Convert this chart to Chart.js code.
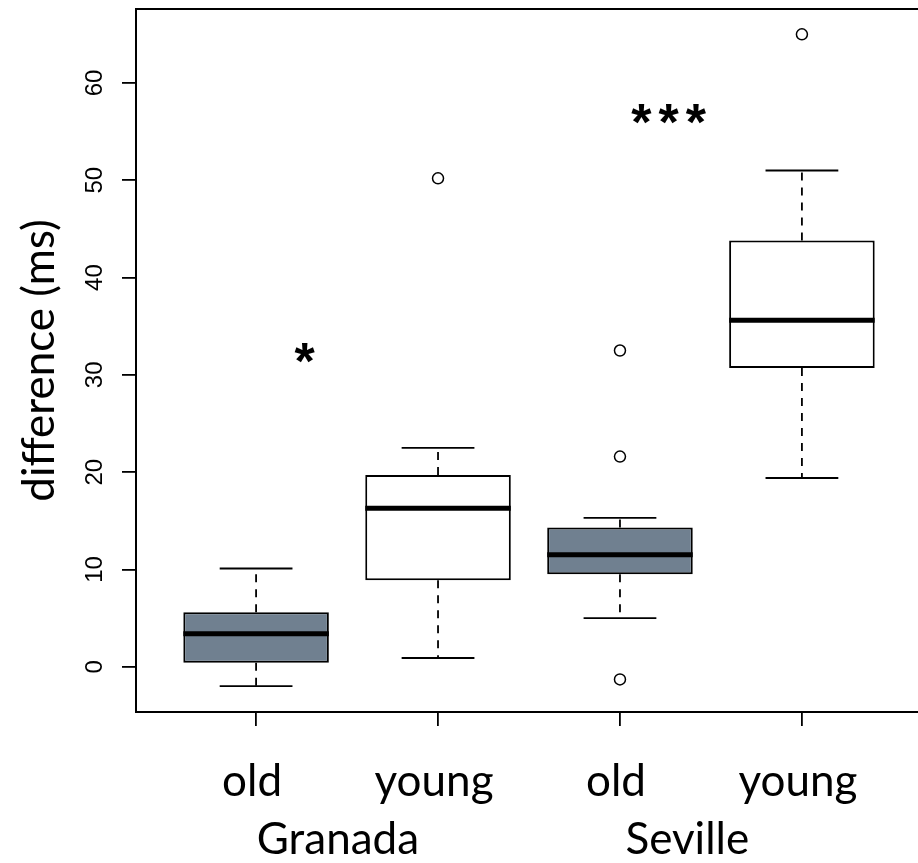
<!DOCTYPE html>
<html>
<head>
<meta charset="utf-8">
<script src="https://cdn.jsdelivr.net/npm/chart.js@4.4.1/dist/chart.umd.min.js"></script>
<style>
  html, body { margin: 0; padding: 0; background: #fff; overflow: hidden; }
  #wrap { position: absolute; left: 0; top: 0; width: 940px; height: 863px; }
</style>
</head>
<body>
<div id="wrap"><canvas id="chart" width="940" height="863"></canvas></div>
<script>
// box statistics, one entry per group (Granada old/young, Seville old/young)
const groups = ["old", "young", "old", "young"];
const cities = ["Granada", "Seville"];
const whiskerLow = [-2.0, 0.9, 5.0, 19.4];
const lowerQuartile = [0.4, 8.9, 9.5, 30.7];
const medians = [3.4, 16.3, 11.5, 35.6];
const upperQuartile = [5.6, 19.7, 14.3, 43.8];
const whiskerHigh = [10.1, 22.5, 15.3, 51.0];
const outliers = [[], [50.2], [32.5, 21.6, -1.3], [65.0]];
const yTicks = [0, 10, 20, 30, 40, 50, 60];
const stars = ["*", "***"];
const starValues = [32.2, 56.8];

// where the city names and the stars sit along the x scale
const cityAt = [1.45, 3.37];
const starAt = [1.25, 3.25];
const fills = ["#708090", "#ffffff", "#708090", "#ffffff"];

const boxes = groups.map((g, i) => ({ x: i + 1, y: [lowerQuartile[i], upperQuartile[i]] }));
const points = [];
outliers.forEach((list, i) => list.forEach(v => points.push({ x: i + 1, y: v })));

function seg(ctx, x1, y1, x2, y2) {
  ctx.beginPath();
  ctx.moveTo(x1, y1);
  ctx.lineTo(x2, y2);
  ctx.stroke();
}

function noPad(s) {
  s.paddingTop = 0;
  s.paddingBottom = 0;
  s.paddingLeft = 0;
  s.paddingRight = 0;
}

const boxParts = {
  id: "boxParts",
  afterDatasetsDraw(chart) {
    const { ctx, chartArea, scales: { x, y } } = chart;
    const bars = chart.getDatasetMeta(0).data;
    ctx.save();
    ctx.strokeStyle = "#000";
    medians.forEach((m, i) => {
      const cx = x.getPixelForValue(i + 1);
      const half = bars[i].width / 2;
      const hi = y.getPixelForValue(whiskerHigh[i]);
      const lo = y.getPixelForValue(whiskerLow[i]);
      ctx.lineWidth = 1.8;
      ctx.setLineDash([8, 7]);
      seg(ctx, cx, y.getPixelForValue(upperQuartile[i]), cx, hi);
      seg(ctx, cx, y.getPixelForValue(lowerQuartile[i]), cx, lo);
      ctx.setLineDash([]);
      seg(ctx, cx - half / 2, hi, cx + half / 2, hi);
      seg(ctx, cx - half / 2, lo, cx + half / 2, lo);
      ctx.lineWidth = 5;
      const my = y.getPixelForValue(m);
      seg(ctx, cx - half, my, cx + half, my);
    });
    // frame round the plot
    ctx.lineWidth = 2;
    ctx.strokeRect(chartArea.left, chartArea.top, chartArea.right - chartArea.left, chartArea.bottom - chartArea.top);

    // significance stars, centred on their ink
    ctx.fillStyle = "#000";
    ctx.font = "bold 52px 'Liberation Sans'";
    ctx.letterSpacing = "7px";
    ctx.textAlign = "left";
    ctx.textBaseline = "alphabetic";
    stars.forEach((s, i) => {
      const m = ctx.measureText(s);
      const w = m.actualBoundingBoxRight + m.actualBoundingBoxLeft - 7;
      const h = m.actualBoundingBoxAscent + m.actualBoundingBoxDescent;
      const px = x.getPixelForValue(starAt[i]);
      const py = y.getPixelForValue(starValues[i]);
      ctx.fillText(s, px - w / 2 + m.actualBoundingBoxLeft, py + h / 2 - m.actualBoundingBoxDescent);
    });
    ctx.restore();
  }
};

new Chart(document.getElementById("chart"), {
  type: "bar",
  data: {
    datasets: [
      {
        data: boxes,
        backgroundColor: fills,
        borderColor: "#000",
        borderWidth: 2,
        borderSkipped: false,
        barPercentage: 0.8,
        categoryPercentage: 1
      },
      {
        type: "scatter",
        data: points,
        pointStyle: "circle",
        radius: 5.5,
        backgroundColor: "#fff",
        borderColor: "#000",
        borderWidth: 1.5
      }
    ]
  },
  options: {
    responsive: false,
    devicePixelRatio: 1,
    animation: false,
    layout: { padding: { top: 9, right: 18, left: 0, bottom: 0 } },
    plugins: { legend: { display: false }, tooltip: { enabled: false } },
    scales: {
      x: {
        type: "linear",
        position: "bottom",
        weight: 0,
        min: 0.34,
        max: 4.66,
        offset: false,
        afterBuildTicks: s => { s.ticks = groups.map((g, i) => ({ value: i + 1 })); },
        afterFit: s => { s.height = 100; noPad(s); },
        grid: { offset: false, drawOnChartArea: false, drawTicks: true, tickLength: 14, color: "#000", lineWidth: 1.8 },
        border: { display: false },
        ticks: {
          autoSkip: false, maxRotation: 0, padding: 29, labelOffset: -4, color: "#000",
          font: { family: "Lato", size: 44 },
          callback: (v, i) => groups[i]
        }
      },
      x2: {
        type: "linear",
        position: "bottom",
        weight: 1,
        min: 0.34,
        max: 4.66,
        offset: false,
        afterBuildTicks: s => { s.ticks = cities.map((c, i) => ({ value: cityAt[i] })); },
        afterFit: s => { s.height = 51; noPad(s); },
        grid: { display: false, drawTicks: false },
        border: { display: false },
        ticks: {
          autoSkip: false, maxRotation: 0, padding: 1, color: "#000",
          font: { family: "Lato", size: 44 },
          callback: (v, i) => cities[i]
        }
      },
      y: {
        type: "linear",
        min: -4.65,
        max: 67.6,
        afterBuildTicks: s => { s.ticks = yTicks.map(v => ({ value: v })); },
        afterFit: s => { s.width = 136; noPad(s); },
        grid: { drawOnChartArea: false, drawTicks: true, tickLength: 14, color: "#000", lineWidth: 1.8 },
        border: { display: false },
        ticks: {
          minRotation: 90, maxRotation: 90, crossAlign: "center", padding: 13, color: "#000",
          font: { family: "'Liberation Sans'", size: 24 }
        },
        title: {
          display: true,
          text: "difference (ms)",
          color: "#000",
          font: { family: "Lato", size: 44 },
          padding: { top: 13, bottom: 0 }
        }
      }
    }
  },
  plugins: [boxParts]
});
</script>
</body>
</html>
